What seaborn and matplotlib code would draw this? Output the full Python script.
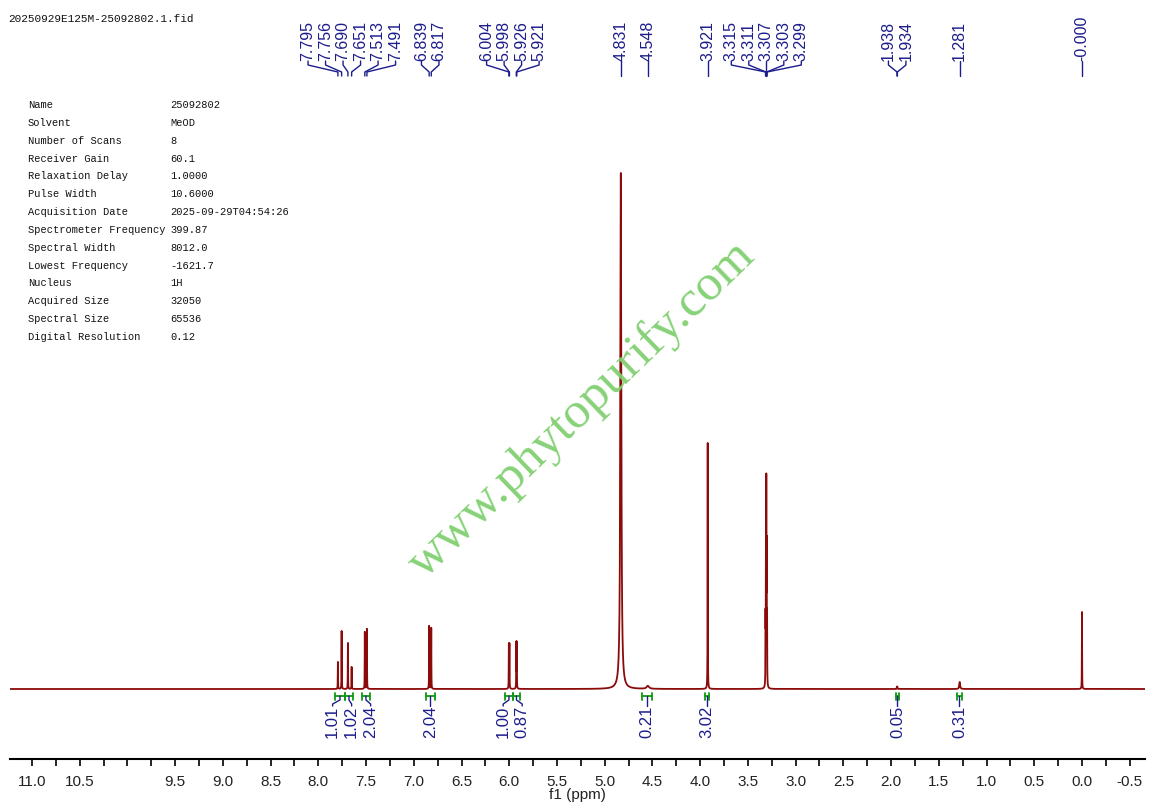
import numpy as np
import pandas as pd
import matplotlib
matplotlib.use("Agg")
import matplotlib.pyplot as plt
import matplotlib.transforms as mtransforms
from matplotlib.ticker import FixedLocator, MultipleLocator
import seaborn as sns

# ---------------- data ----------------
title_text = "20250929E125M-25092802.1.fid"
param_names = ["Name", "Solvent", "Number of Scans", "Receiver Gain", "Relaxation Delay",
               "Pulse Width", "Acquisition Date", "Spectrometer Frequency", "Spectral Width",
               "Lowest Frequency", "Nucleus", "Acquired Size", "Spectral Size", "Digital Resolution"]
param_values = ["25092802", "MeOD", "8", "60.1", "1.0000", "10.6000", "2025-09-29T04:54:26",
                "399.87", "8012.0", "-1621.7", "1H", "32050", "65536", "0.12"]

peak_shifts = [7.795, 7.756, 7.690, 7.651, 7.513, 7.491, 6.839, 6.817, 6.004, 5.998,
               5.926, 5.921, 4.831, 4.548, 3.921, 3.315, 3.311, 3.307, 3.303, 3.299,
               1.938, 1.934, 1.281, 0.000]
peak_heights = [27, 58, 46, 22, 57, 60, 63, 61, 44, 44,
                45, 45, 516, 3, 246, 63, 127, 190, 127, 63,
                2, 2, 7, 77]
peak_widths = [0.0025, 0.0025, 0.0025, 0.0025, 0.0025, 0.0025, 0.0025, 0.0025, 0.0025, 0.0025,
               0.0025, 0.0025, 0.012, 0.03, 0.0025, 0.0025, 0.0025, 0.0025, 0.0025, 0.0025,
               0.004, 0.004, 0.01, 0.0025]
peak_labels = ["7.795", "7.756", "7.690", "7.651", "7.513", "7.491", "6.839", "6.817", "6.004", "5.998",
               "5.926", "5.921", "4.831", "4.548", "3.921", "3.315", "3.311", "3.307", "3.303", "3.299",
               "1.938", "1.934", "1.281", "-0.000"]

integral_starts = [7.826, 7.721, 7.543, 6.873, 6.045, 5.961, 4.610, 3.950, 1.949, 1.310]
integral_ends = [7.721, 7.637, 7.459, 6.779, 5.961, 5.888, 4.505, 3.908, 1.917, 1.257]
integral_values = ["1.01", "1.02", "2.04", "2.04", "1.00", "0.87", "0.21", "3.02", "0.05", "0.31"]

x_tick_values = [11.0, 10.5, 10.0, 9.5, 9.0, 8.5, 8.0, 7.5, 7.0, 6.5, 6.0, 5.5, 5.0,
                 4.5, 4.0, 3.5, 3.0, 2.5, 2.0, 1.5, 1.0, 0.5, 0.0, -0.5]
x_tick_labels = ["11.0", "10.5", "", "9.5", "9.0", "8.5", "8.0", "7.5", "7.0", "6.5", "6.0", "5.5", "5.0",
                 "4.5", "4.0", "3.5", "3.0", "2.5", "2.0", "1.5", "1.0", "0.5", "0.0", "-0.5"]

# ---------------- spectrum from peak list ----------------
ppm = np.arange(-0.66, 11.23, 0.00025)
intensity = np.zeros_like(ppm)
for s, h, w in zip(peak_shifts, peak_heights, peak_widths):
    intensity += h / (1.0 + (2.0 * (ppm - s) / w) ** 2)
df = pd.DataFrame({"ppm": ppm, "intensity": intensity})

# ---------------- figure ----------------
W, H = 1154, 812
sns.set_style("white")
plt.rcParams["font.family"] = ["Liberation Sans", "DejaVu Sans"]
fig = plt.figure(figsize=(W / 100, H / 100), dpi=100)

def fy(py):
    return 1 - py / H

ax = fig.add_axes([10 / W, fy(760), (1145 - 10) / W, (760 - 16) / H])
sns.lineplot(data=df, x="ppm", y="intensity", ax=ax, color="#8B0A0A", linewidth=1.3,
             estimator=None, sort=False)
ax.set_xlim(11.23, -0.66)
ax.set_ylim(-70, 674)
for sp in ["top", "right", "left"]:
    ax.spines[sp].set_visible(False)
ax.spines["bottom"].set_linewidth(1.5)
ax.spines["bottom"].set_color("black")
ax.set_yticks([])
ax.set_ylabel("")
ax.xaxis.set_major_locator(FixedLocator(x_tick_values))
ax.set_xticklabels(x_tick_labels)
ax.xaxis.set_minor_locator(MultipleLocator(0.25))
ax.tick_params(axis="x", which="both", direction="out", length=5, width=1.2, color="black",
               labelsize=11, pad=6, labelcolor="#222222", bottom=True)
ax.set_xlabel("f1 (ppm)", fontsize=11, labelpad=-1, color="#222222")

px_per_ppm = (1145 - 10) / (11.23 + 0.66)
trans = mtransforms.blended_transform_factory(ax.transData, fig.transFigure)


def spread_positions(centers, gap):
    centers = np.asarray(centers, dtype=float)
    order = np.argsort(centers)
    blocks = []
    for i in order:
        blocks.append([centers[i], [i]])
        while len(blocks) > 1:
            a, b = blocks[-2], blocks[-1]
            na, nb = len(a[1]), len(b[1])
            a_end = a[0] / na + (na - 1) * gap / 2
            b_start = b[0] / nb - (nb - 1) * gap / 2
            if b_start - a_end < gap:
                blocks[-2] = [a[0] + b[0], a[1] + b[1]]
                blocks.pop()
            else:
                break
    out = np.empty(len(centers))
    for s, mem in blocks:
        n = len(mem)
        m = s / n
        for k, i in enumerate(mem):
            out[i] = m + (k - (n - 1) / 2) * gap
    return out

label_blue = "#1C1C8C"

# peak labels on top
lab_x = spread_positions(peak_shifts, 17.5 / px_per_ppm)
for s, lx, txt in zip(peak_shifts, lab_x, peak_labels):
    ax.plot([lx, lx, s, s], [fy(62), fy(66), fy(73), fy(77)], transform=trans,
            color=label_blue, lw=1.0, clip_on=False)
    ax.text(lx, fy(61), txt, transform=trans, rotation=90, ha="center", va="bottom",
            fontsize=11.5, color=label_blue)

# integrals
int_centers = [(a + b) / 2 for a, b in zip(integral_starts, integral_ends)]
int_x = spread_positions(int_centers, 19 / px_per_ppm)
green = "#109A10"
for a, b, c, lx, txt in zip(integral_starts, integral_ends, int_centers, int_x, integral_values):
    ax.plot([a, b], [fy(697), fy(697)], transform=trans, color=green, lw=1.3, clip_on=False)
    ax.plot([a, a], [fy(693.5), fy(700.5)], transform=trans, color=green, lw=1.3, clip_on=False)
    ax.plot([b, b], [fy(693.5), fy(700.5)], transform=trans, color=green, lw=1.3, clip_on=False)
    ax.plot([c, c, lx, lx], [fy(697), fy(701), fy(705), fy(707)], transform=trans,
            color=label_blue, lw=1.0, clip_on=False)
    ax.text(lx, fy(706), txt, transform=trans, rotation=90, ha="center", va="top",
            fontsize=12, color=label_blue)

# header & parameter table
mono = ["Liberation Mono", "DejaVu Sans Mono"]
fig.text(8 / W, fy(19), title_text, family=mono, fontsize=8, va="center", ha="left", color="#111111")
for k, (n, v) in enumerate(zip(param_names, param_values)):
    y = fy(105 + k * 17.85)
    fig.text(28 / W, y, n, family=mono, fontsize=7.5, va="center", ha="left", color="#111111")
    fig.text(170 / W, y, v, family=mono, fontsize=7.5, va="center", ha="left", color="#111111")

# watermark
fig.text(582 / W, fy(410), "www.phytopurify.com", rotation=44, rotation_mode="anchor",
         ha="center", va="center", fontsize=37, family=["Liberation Serif", "DejaVu Serif"],
         color="#80D070", alpha=0.95)

fig.savefig("out.png", dpi=100)
